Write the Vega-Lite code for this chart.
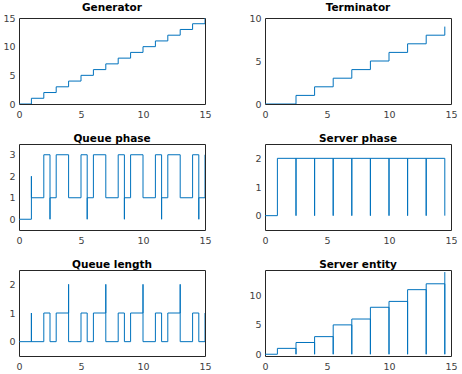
{
  "$schema": "https://vega.github.io/schema/vega-lite/v6.json",
  "padding": {"left": 2, "top": 2, "right": 0, "bottom": 0},
  "background": "white",
  "datasets": {
    "gen": [
      {"i":0,"x":0,"y":0},{"i":1,"x":1,"y":1},{"i":2,"x":2,"y":2},{"i":3,"x":3,"y":3},{"i":4,"x":4,"y":4},{"i":5,"x":5,"y":5},{"i":6,"x":6,"y":6},{"i":7,"x":7,"y":7},{"i":8,"x":8,"y":8},{"i":9,"x":9,"y":9},{"i":10,"x":10,"y":10},{"i":11,"x":11,"y":11},{"i":12,"x":12,"y":12},{"i":13,"x":13,"y":13},{"i":14,"x":14,"y":14},{"i":15,"x":15,"y":15}
    ],
    "term": [
      {"i":0,"x":0,"y":0},{"i":1,"x":2.5,"y":1},{"i":2,"x":4,"y":2},{"i":3,"x":5.5,"y":3},{"i":4,"x":7,"y":4},{"i":5,"x":8.5,"y":5},{"i":6,"x":10,"y":6},{"i":7,"x":11.5,"y":7},{"i":8,"x":13,"y":8},{"i":9,"x":14.5,"y":9}
    ],
    "qphase": [
      {"i":0,"x":0,"y":0},{"i":1,"x":1,"y":2},{"i":2,"x":1,"y":1},{"i":3,"x":2,"y":3},{"i":4,"x":2.5,"y":0},{"i":5,"x":2.5,"y":1},{"i":6,"x":3,"y":3},{"i":7,"x":4,"y":1},{"i":8,"x":5,"y":3},{"i":9,"x":5.5,"y":0},{"i":10,"x":5.5,"y":1},{"i":11,"x":6,"y":3},{"i":12,"x":7,"y":1},{"i":13,"x":8,"y":3},{"i":14,"x":8.5,"y":0},{"i":15,"x":8.5,"y":1},{"i":16,"x":9,"y":3},{"i":17,"x":10,"y":1},{"i":18,"x":11,"y":3},{"i":19,"x":11.5,"y":0},{"i":20,"x":11.5,"y":1},{"i":21,"x":12,"y":3},{"i":22,"x":13,"y":1},{"i":23,"x":14,"y":3},{"i":24,"x":14.5,"y":0},{"i":25,"x":14.5,"y":1},{"i":26,"x":15,"y":3}
    ],
    "sphase": [
      {"i":0,"x":0,"y":0},{"i":1,"x":1,"y":2},{"i":2,"x":2.5,"y":0},{"i":3,"x":2.5,"y":2},{"i":4,"x":4,"y":0},{"i":5,"x":4,"y":2},{"i":6,"x":5.5,"y":0},{"i":7,"x":5.5,"y":2},{"i":8,"x":7,"y":0},{"i":9,"x":7,"y":2},{"i":10,"x":8.5,"y":0},{"i":11,"x":8.5,"y":2},{"i":12,"x":10,"y":0},{"i":13,"x":10,"y":2},{"i":14,"x":11.5,"y":0},{"i":15,"x":11.5,"y":2},{"i":16,"x":13,"y":0},{"i":17,"x":13,"y":2},{"i":18,"x":14.5,"y":0}
    ],
    "qlen": [
      {"i":0,"x":0,"y":0},{"i":1,"x":1,"y":1},{"i":2,"x":1,"y":0},{"i":3,"x":2,"y":1},{"i":4,"x":2.5,"y":0},{"i":5,"x":3,"y":1},{"i":6,"x":4,"y":2},{"i":7,"x":4,"y":0},{"i":8,"x":5,"y":1},{"i":9,"x":5.5,"y":0},{"i":10,"x":6,"y":1},{"i":11,"x":7,"y":2},{"i":12,"x":7,"y":0},{"i":13,"x":8,"y":1},{"i":14,"x":8.5,"y":0},{"i":15,"x":9,"y":1},{"i":16,"x":10,"y":2},{"i":17,"x":10,"y":0},{"i":18,"x":11,"y":1},{"i":19,"x":11.5,"y":0},{"i":20,"x":12,"y":1},{"i":21,"x":13,"y":2},{"i":22,"x":13,"y":0},{"i":23,"x":14,"y":1},{"i":24,"x":14.5,"y":0},{"i":25,"x":15,"y":1}
    ],
    "sent": [
      {"i":0,"x":0,"y":0},{"i":1,"x":1,"y":1},{"i":2,"x":2.5,"y":0},{"i":3,"x":2.5,"y":2},{"i":4,"x":4,"y":0},{"i":5,"x":4,"y":3},{"i":6,"x":5.5,"y":0},{"i":7,"x":5.5,"y":5},{"i":8,"x":7,"y":0},{"i":9,"x":7,"y":6},{"i":10,"x":8.5,"y":0},{"i":11,"x":8.5,"y":8},{"i":12,"x":10,"y":0},{"i":13,"x":10,"y":9},{"i":14,"x":11.5,"y":0},{"i":15,"x":11.5,"y":11},{"i":16,"x":13,"y":0},{"i":17,"x":13,"y":12},{"i":18,"x":14.5,"y":0},{"i":19,"x":14.5,"y":14}
    ]
  },
  "columns": 2,
  "bounds": "flush",
  "spacing": {"row": 40, "column": 60},
  "concat": [
    {
      "title": "Generator",
      "width": 186, "height": 86,
      "data": {"name": "gen"},
      "mark": {"type": "line", "interpolate": "step-after", "clip": true},
      "encoding": {
        "x": {"field": "x", "type": "quantitative", "scale": {"domain": [0, 15], "nice": false}, "axis": {"values": [0, 5, 10, 15]}},
        "y": {"field": "y", "type": "quantitative", "scale": {"domain": [0, 15], "nice": false}, "axis": {"values": [0, 5, 10, 15]}},
        "order": {"field": "i", "type": "quantitative"}
      }
    },
    {
      "title": "Terminator",
      "width": 186, "height": 86,
      "data": {"name": "term"},
      "mark": {"type": "line", "interpolate": "step-after", "clip": true},
      "encoding": {
        "x": {"field": "x", "type": "quantitative", "scale": {"domain": [0, 15], "nice": false}, "axis": {"values": [0, 5, 10, 15]}},
        "y": {"field": "y", "type": "quantitative", "scale": {"domain": [0, 10], "nice": false}, "axis": {"values": [0, 5, 10]}},
        "order": {"field": "i", "type": "quantitative"}
      }
    },
    {
      "title": "Queue phase",
      "width": 186, "height": 86,
      "data": {"name": "qphase"},
      "mark": {"type": "line", "interpolate": "step-after", "clip": true},
      "encoding": {
        "x": {"field": "x", "type": "quantitative", "scale": {"domain": [0, 15], "nice": false}, "axis": {"values": [0, 5, 10, 15]}},
        "y": {"field": "y", "type": "quantitative", "scale": {"domain": [-0.5, 3.5], "nice": false}, "axis": {"values": [0, 1, 2, 3]}},
        "order": {"field": "i", "type": "quantitative"}
      }
    },
    {
      "title": "Server phase",
      "width": 186, "height": 86,
      "data": {"name": "sphase"},
      "mark": {"type": "line", "interpolate": "step-after", "clip": true},
      "encoding": {
        "x": {"field": "x", "type": "quantitative", "scale": {"domain": [0, 15], "nice": false}, "axis": {"values": [0, 5, 10, 15]}},
        "y": {"field": "y", "type": "quantitative", "scale": {"domain": [-0.5, 2.5], "nice": false}, "axis": {"values": [0, 1, 2]}},
        "order": {"field": "i", "type": "quantitative"}
      }
    },
    {
      "title": "Queue length",
      "width": 186, "height": 86,
      "data": {"name": "qlen"},
      "mark": {"type": "line", "interpolate": "step-after", "clip": true},
      "encoding": {
        "x": {"field": "x", "type": "quantitative", "scale": {"domain": [0, 15], "nice": false}, "axis": {"values": [0, 5, 10, 15]}},
        "y": {"field": "y", "type": "quantitative", "scale": {"domain": [-0.5, 2.5], "nice": false}, "axis": {"values": [0, 1, 2]}},
        "order": {"field": "i", "type": "quantitative"}
      }
    },
    {
      "title": "Server entity",
      "width": 186, "height": 86,
      "data": {"name": "sent"},
      "mark": {"type": "line", "interpolate": "step-after", "clip": true},
      "encoding": {
        "x": {"field": "x", "type": "quantitative", "scale": {"domain": [0, 15], "nice": false}, "axis": {"values": [0, 5, 10, 15]}},
        "y": {"field": "y", "type": "quantitative", "scale": {"domain": [-0.3, 14.35], "nice": false}, "axis": {"values": [0, 5, 10]}},
        "order": {"field": "i", "type": "quantitative"}
      }
    }
  ],
  "config": {
    "font": "DejaVu Sans",
    "view": {"stroke": "#262626", "strokeWidth": 1},
    "line": {"color": "#0072BD", "strokeWidth": 1},
    "axis": {
      "title": null, "grid": false, "domain": false, "ticks": false,
      "labelFont": "DejaVu Sans", "labelFontSize": 9.5, "labelColor": "#404040",
      "labelPadding": 5, "labelFlush": false, "labelOverlap": false
    },
    "axisX": {"labelPadding": 5},
    "axisY": {"labelPadding": 4},
    "title": {"font": "DejaVu Sans", "fontSize": 10.5, "fontWeight": "bold", "color": "#000000", "offset": -0.7}
  }
}
